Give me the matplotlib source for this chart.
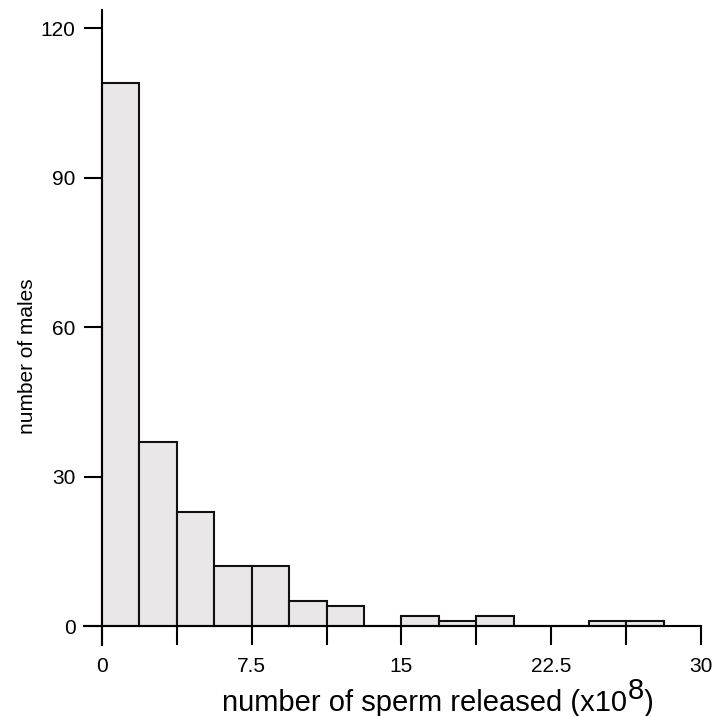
import numpy as np
import matplotlib
matplotlib.use("Agg")
import matplotlib.pyplot as plt

plt.rcParams['font.family'] = ['Liberation Sans', 'DejaVu Sans']

# Histogram of sperm released per male (units of 1e8), bin width 1.875
bin_start = 0.0
bin_width = 1.875
counts = [109, 37, 23, 12, 12, 5, 4, 0, 2, 1, 2, 0, 0, 1, 1]
x_ticks = [0, 7.5, 15, 22.5, 30]
x_tick_labels = ["0", "7.5", "15", "22.5", "30"]
y_ticks = [0, 30, 60, 90, 120]

left_edges = bin_start + bin_width * np.arange(len(counts))

W, H = 721, 716
fig = plt.figure(figsize=(W / 100, H / 100), dpi=100)
ax = fig.add_axes([0.1165, 0.0992, 0.8558, 0.8868])

ax.bar(left_edges, counts, width=bin_width, align='edge',
       color='#e9e7e7', edgecolor='#111111', linewidth=1.5)

ax.set_xlim(-0.9, 30)
ax.set_ylim(-3.8, 123.7)

for side in ('top', 'right'):
    ax.spines[side].set_visible(False)
ax.spines['left'].set_position(('data', 0))
ax.spines['bottom'].set_position(('data', 0))
ax.spines['left'].set_linewidth(1.5)
ax.spines['bottom'].set_linewidth(1.5)

ax.set_xticks(x_ticks)
ax.set_xticklabels(x_tick_labels)
ax.set_xticks(np.arange(3.75, 30, 7.5), minor=True)
ax.set_yticks(y_ticks)

ax.tick_params(axis='x', which='both', direction='out', length=13.5, width=1.5, pad=9, labelsize=15)
ax.tick_params(axis='y', direction='out', length=13, width=1.5, pad=6, labelsize=15)

ax.set_ylabel("number of males", fontsize=15)
ax.yaxis.set_label_coords(-0.076, 0.455)

# x label with a full-size raised exponent, built from three pieces
label_size = 21
baseline = (H - 711) / H
t_main = fig.text(222 / W, baseline, "number of sperm released (x10",
                  fontsize=label_size, ha='left', va='baseline')
renderer = fig.canvas.get_renderer()
bb = t_main.get_window_extent(renderer)
t_exp = fig.text(bb.x1 / W + 0.5 / W, baseline + 12 / H, "8",
                 fontsize=label_size, ha='left', va='baseline')
bb2 = t_exp.get_window_extent(renderer)
fig.text(bb2.x1 / W, baseline, ")", fontsize=label_size, ha='left', va='baseline')

fig.savefig("out.png", dpi=100)
